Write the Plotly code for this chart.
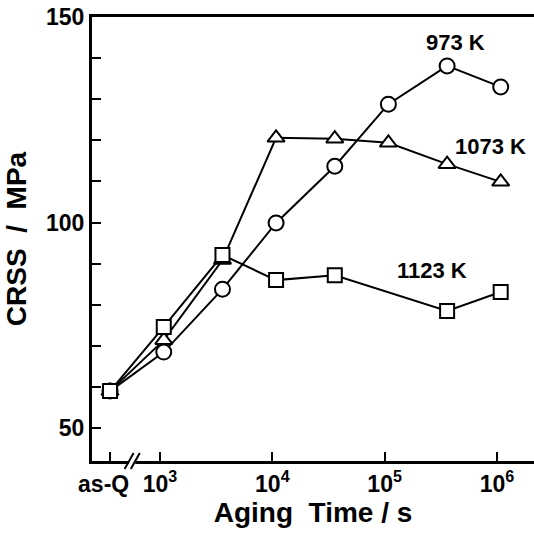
import math
import plotly.graph_objects as go

# log10(aging time / s); as-Q placed left of the axis break
AS_Q_POS = 2.555
times_s = [1.08e3, 3.6e3, 1.08e4, 3.6e4, 1.08e5, 3.6e5, 1.08e6]
log_t = [math.log10(t) for t in times_s]

crss_973 = [59.0, 68.5, 83.8, 99.9, 113.7, 128.8, 138.1, 133.0]
crss_1073 = [59.0, 71.4, 90.9, 120.6, 120.4, 119.4, 114.2, 109.9]
crss_1123_x = [AS_Q_POS] + [log_t[0], log_t[1], log_t[2], log_t[3], log_t[5], log_t[6]]
crss_1123 = [59.0, 74.6, 92.1, 86.0, 87.2, 78.5, 83.1]
x_all = [AS_Q_POS] + log_t

x_tickvals = [AS_Q_POS, 3, 4, 5, 6]
x_ticktext = ["as-Q&nbsp;&nbsp;", "10<sup>3</sup>", "10<sup>4</sup>", "10<sup>5</sup>", "10<sup>6</sup>"]
y_tickvals = list(range(50, 151, 10))
y_ticktext = ["50" if v == 50 else "100" if v == 100 else "150" if v == 150 else "" for v in y_tickvals]

labels = [("973 K", 5.627, 143.7), ("1073 K", 5.939, 118.4), ("1123 K", 5.422, 88.4)]

FONT = "Liberation Sans, Arial, sans-serif"

fig = go.Figure()
common = dict(mode="lines+markers", line=dict(color="black", width=2), showlegend=False)
fig.add_trace(go.Scatter(x=x_all, y=crss_973,
                         marker=dict(symbol="circle", size=15, color="white", line=dict(color="black", width=2)),
                         **common))
fig.add_trace(go.Scatter(x=x_all, y=crss_1073,
                         marker=dict(symbol="triangle-up", size=15, color="white", line=dict(color="black", width=2)),
                         **common))
fig.add_trace(go.Scatter(x=crss_1123_x, y=crss_1123,
                         marker=dict(symbol="square", size=14, color="white", line=dict(color="black", width=2)),
                         **common))

for text, lx, ly in labels:
    fig.add_annotation(x=lx, y=ly, text=text, showarrow=False,
                       font=dict(family=FONT, size=22, color="black", weight="bold"))

# axis break marks
brk_lo, brk_hi = 2.725, 2.78
fig.add_shape(type="rect", xref="x", yref="paper", x0=brk_lo, x1=brk_hi, y0=-0.012, y1=0.012,
              fillcolor="white", line=dict(width=0), layer="above")
for bx in (brk_lo, brk_hi):
    fig.add_shape(type="line", xref="x", yref="paper", x0=bx - 0.04, x1=bx + 0.04, y0=-0.018, y1=0.018,
                  line=dict(color="black", width=2), layer="above")

fig.update_layout(
    width=534, height=537,
    margin=dict(l=92, r=0, t=17, b=76),
    paper_bgcolor="white", plot_bgcolor="white",
    font=dict(family=FONT, color="black"),
    xaxis=dict(range=[2.3945, 6.33], tickvals=x_tickvals, ticktext=x_ticktext, automargin=False,
               tickangle=0,
               ticks="inside", ticklen=9, tickwidth=2, tickcolor="black",
               showline=True, linewidth=3, linecolor="black", mirror=True,
               showgrid=False, zeroline=False,
               tickfont=dict(family=FONT, size=23, color="black", weight="bold"),
               title=dict(text="Aging  Time / s", standoff=6,
                          font=dict(family=FONT, size=28, color="black", weight="bold"))),
    yaxis=dict(range=[42, 150], tickvals=y_tickvals, ticktext=y_ticktext, automargin=False,
               ticks="inside", ticklen=9, tickwidth=2, tickcolor="black",
               showline=True, linewidth=3, linecolor="black", mirror=False,
               showgrid=False, zeroline=False,
               tickfont=dict(family=FONT, size=23, color="black", weight="bold"),
               title=dict(text="CRSS  /  MPa", standoff=12,
                          font=dict(family=FONT, size=28, color="black", weight="bold"))),
)

fig.write_html("out.html", config={"displayModeBar": False},
               post_script="document.body.style.margin='0';document.body.style.overflow='hidden';")
